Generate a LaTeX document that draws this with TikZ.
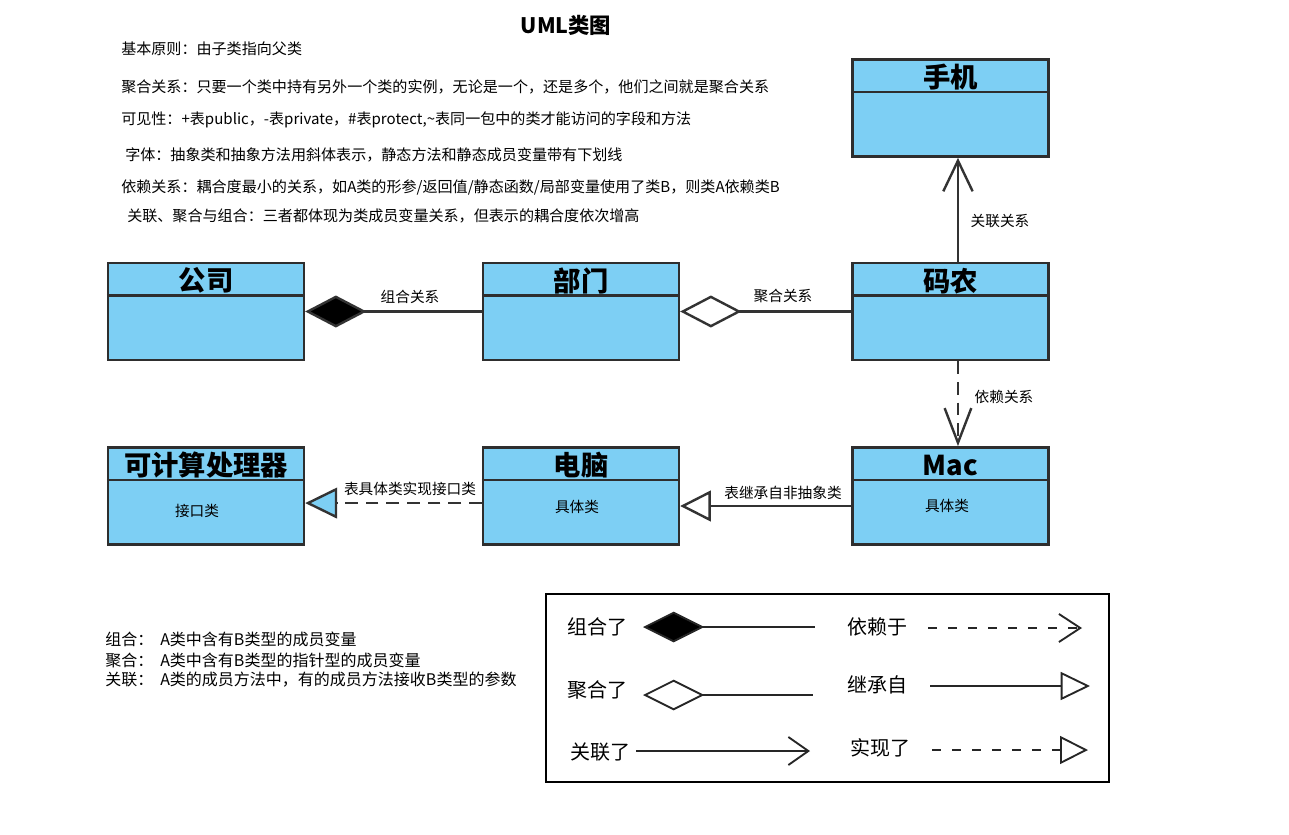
\documentclass[tikz,border=0pt]{standalone}
\usepackage{fontspec}
\setmainfont{Noto Sans CJK SC}
\usetikzlibrary{arrows.meta}
\definecolor{boxblue}{HTML}{7DCFF4}
\definecolor{boxline}{HTML}{2E2E2E}
\definecolor{connline}{HTML}{333333}
\begin{document}
\begin{tikzpicture}[x=0.75pt,y=-0.75pt,
  cls/.style={draw=boxline, line width=1.8pt, fill=boxblue, minimum width=147pt, minimum height=73pt, inner sep=0pt},
  divider/.style={draw=boxline, line width=1.8pt},
  clstitle/.style={inner sep=0pt, font=\bfseries\fontsize{20.5}{22}\selectfont},
  clsbody/.style={inner sep=0pt, font=\fontsize{11}{13}\selectfont},
  conn/.style={draw=connline, line width=1.8pt},
  dashconn/.style={conn, dash pattern=on 9.5pt off 6pt},
  lbl/.style={inner sep=0pt, font=\fontsize{11}{13}\selectfont},
  toptext/.style={inner sep=0pt, anchor=west, font=\fontsize{11.3}{13}\selectfont},
  bltext/.style={inner sep=0pt, anchor=west, font=\fontsize{12}{14}\selectfont},
  lgtext/.style={inner sep=0pt, font=\fontsize{15}{17}\selectfont},
  lgline/.style={draw=black!85, line width=1.4pt},
  lgdash/.style={lgline, dash pattern=on 7pt off 8pt}
]
\useasboundingbox (0,0) rectangle (1289,835);
\fill[white] (0,0) rectangle (1289,835);

% title and notes
\node[inner sep=0pt, font=\bfseries\fontsize{16}{18}\selectfont] (title) at (566,25) {UML类图};
\node[toptext] (t1) at (121,49) {基本原则：由子类指向父类};
\node[toptext] (t2) at (121,87) {聚合关系：只要一个类中持有另外一个类的实例，无论是一个，还是多个，他们之间就是聚合关系};
\node[toptext] (t3) at (121,120) {可见性：+表public，-表private，\#表protect,\textasciitilde 表同一包中的类才能访问的字段和方法};
\node[toptext] (t4) at (125,155) {字体：抽象类和抽象方法用斜体表示，静态方法和静态成员变量带有下划线};
\node[toptext] (t5) at (121,187) {依赖关系：耦合度最小的关系，如A类的形参/返回值/静态函数/局部变量使用了类B，则类A依赖类B};
\node[toptext] (t6) at (127,216) {关联、聚合与组合：三者都体现为类成员变量关系，但表示的耦合度依次增高};

% classes
\node[cls] (gs) at (206,311.5) {};
\draw[divider] ([yshift=-25.5pt]gs.north west) -- ([yshift=-25.5pt]gs.north east);
\node[clstitle] (gsT) at ([yshift=-14.3pt]gs.north) {公司};

\node[cls] (bm) at (581,311.5) {};
\draw[divider] ([yshift=-25.5pt]bm.north west) -- ([yshift=-25.5pt]bm.north east);
\node[clstitle] (bmT) at ([yshift=-14.3pt]bm.north) {部门};

\node[cls] (mn) at (950.5,311.5) {};
\draw[divider] ([yshift=-25.5pt]mn.north west) -- ([yshift=-25.5pt]mn.north east);
\node[clstitle] (mnT) at ([yshift=-14.3pt]mn.north) {码农};

\node[cls] (sj) at (950.5,108) {};
\draw[divider] ([yshift=-25.5pt]sj.north west) -- ([yshift=-25.5pt]sj.north east);
\node[clstitle] (sjT) at ([yshift=-14.3pt]sj.north) {手机};

\node[cls] (jq) at (206,496) {};
\draw[divider] ([yshift=-25.5pt]jq.north west) -- ([yshift=-25.5pt]jq.north east);
\node[clstitle] (jqT) at ([yshift=-14.3pt]jq.north) {可计算处理器};
\node[clsbody] (jqB) at (197,511) {接口类};

\node[cls] (dn) at (581,496) {};
\draw[divider] ([yshift=-25.5pt]dn.north west) -- ([yshift=-25.5pt]dn.north east);
\node[clstitle] (dnT) at ([yshift=-14.3pt]dn.north) {电脑};
\node[clsbody] (dnB) at (577,507) {具体类};

\node[cls] (mac) at (950.5,496) {};
\draw[divider] ([yshift=-25.5pt]mac.north west) -- ([yshift=-25.5pt]mac.north east);
\node[clstitle] (macT) at ([yshift=-14.3pt]mac.north) {Mac};
\node[clsbody] (macB) at (947,506) {具体类};

% connectors
\draw[conn, {Diamond[fill=black, length=46pt, width=24pt]}-] (gs.east) -- (bm.west);
\node[lbl] (l1) at (410,297) {组合关系};

\draw[conn, {Diamond[open, length=46pt, width=24pt]}-] (bm.east) -- (mn.west);
\node[lbl] (l2) at (783,296) {聚合关系};

\draw[conn, -{Straight Barb[length=23pt, width=22pt]}] ([xshift=5.6pt]mn.north) -- ([xshift=5.6pt]sj.south);
\node[lbl] (l3) at (1000,221) {关联关系};

\draw[dashconn, -{Straight Barb[length=26pt, width=20pt]}] ([xshift=5.6pt]mn.south) -- ([xshift=5.6pt]mac.north);
\node[lbl] (l4) at (1004,397) {依赖关系};

\draw[conn, -{Triangle[open, length=23pt, width=23pt]}] ([yshift=-7.5pt]mac.west) -- ([yshift=-7.5pt]dn.east);
\node[lbl] (l5) at (783,493) {表继承自非抽象类};

\draw[dashconn, -{Triangle[fill=boxblue, length=24pt, width=23pt]}] ([yshift=-5.3pt]dn.west) -- ([yshift=-5.3pt]jq.east);
\node[lbl] (l6) at (410,489) {表具体类实现接口类};

% bottom-left notes
\node[bltext] (b1a) at (105,639) {组合：};
\node[bltext] (b1b) at (160,639) {A类中含有B类型的成员变量};
\node[bltext] (b2a) at (105,660) {聚合：};
\node[bltext] (b2b) at (160,660) {A类中含有B类型的指针型的成员变量};
\node[bltext] (b3a) at (105,680) {关联：};
\node[bltext] (b3b) at (160,680) {A类的成员方法中，有的成员方法接收B类型的参数};

% legend
\node[draw=black, line width=0.8pt, minimum width=422.25pt, minimum height=141pt, inner sep=0pt] (legend) at (827.5,688) {};

\node[lgtext] (g1) at (597,627) {组合了};
\coordinate (g1a) at (643,627); \coordinate (g1b) at (815,627);
\draw[lgline, {Diamond[fill=black, length=46pt, width=23pt]}-] (g1a) -- (g1b);

\node[lgtext] (g2) at (597,690) {聚合了};
\coordinate (g2a) at (643,695); \coordinate (g2b) at (813,695);
\draw[lgline, {Diamond[open, length=46pt, width=23pt]}-] (g2a) -- (g2b);

\node[lgtext] (g3) at (600,752) {关联了};
\coordinate (g3a) at (636,751); \coordinate (g3b) at (810,751);
\draw[lgline, -{Straight Barb[length=15pt, width=21pt]}] (g3a) -- (g3b);

\node[lgtext] (g4) at (877,627) {依赖于};
\coordinate (g4a) at (928,628); \coordinate (g4b) at (1082,628);
\draw[lgdash, -{Straight Barb[length=16pt, width=21pt]}] (g4a) -- (g4b);

\node[lgtext] (g5) at (877,685) {继承自};
\coordinate (g5a) at (930,686); \coordinate (g5b) at (1090,686);
\draw[lgline, -{Triangle[open, length=22pt, width=21pt]}] (g5a) -- (g5b);

\node[lgtext] (g6) at (880,748) {实现了};
\coordinate (g6a) at (932,750); \coordinate (g6b) at (1088,750);
\draw[lgdash, -{Triangle[open, length=21pt, width=21pt]}] (g6a) -- (g6b);
\end{tikzpicture}
\end{document}
